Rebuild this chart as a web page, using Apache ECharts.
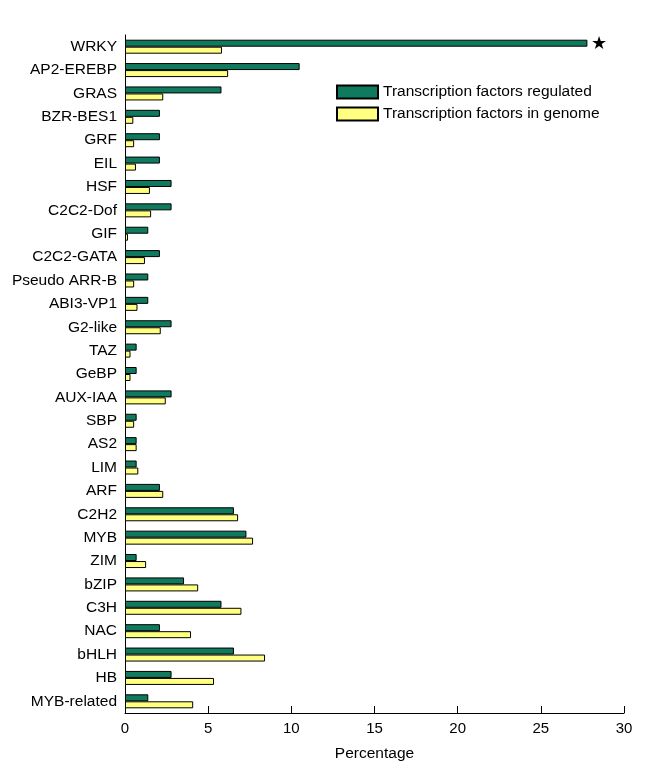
<!DOCTYPE html>
<html><head><meta charset="utf-8">
<script src="https://cdn.jsdelivr.net/npm/echarts@6/dist/echarts.min.js"></script>
<style>html,body{margin:0;padding:0;background:#fff}#c{width:663px;height:776px}</style>
</head><body><div id="c"></div>
<script>
const categories = ["WRKY","AP2-EREBP","GRAS","BZR-BES1","GRF","EIL","HSF","C2C2-Dof","GIF","C2C2-GATA","Pseudo ARR-B","ABI3-VP1","G2-like","TAZ","GeBP","AUX-IAA","SBP","AS2","LIM","ARF","C2H2","MYB","ZIM","bZIP","C3H","NAC","bHLH","HB","MYB-related"];
const regulated = [27.8,10.5,5.8,2.1,2.1,2.1,2.8,2.8,1.4,2.1,1.4,1.4,2.8,0.7,0.7,2.8,0.7,0.7,0.7,2.1,6.55,7.3,0.7,3.55,5.8,2.1,6.55,2.8,1.4];
const genome = [5.83,6.2,2.3,0.5,0.55,0.66,1.5,1.57,0.18,1.2,0.55,0.75,2.15,0.33,0.33,2.45,0.55,0.7,0.8,2.3,6.8,7.7,1.27,4.4,7.0,3.97,8.42,5.35,4.1];
const xTicks = [0,5,10,15,20,25,30];

const chart = echarts.init(document.getElementById('c'));
const font = 'Liberation Sans, Arial, sans-serif';
chart.setOption({
  animation:false,
  textStyle:{fontFamily:font},
  legend:{
    left:331, top:79, orient:'vertical', itemWidth:41, itemHeight:13, itemGap:6, icon:'rect',
    textStyle:{fontSize:15.5,color:'#000',fontFamily:font},
    data:['Transcription factors regulated','Transcription factors in genome']
  },
  grid:{left:125,right:39,top:35,bottom:63,containLabel:false},
  xAxis:{type:'value',min:xTicks[0],max:xTicks[xTicks.length-1],interval:5,
    name:'Percentage',nameLocation:'middle',nameGap:33,
    nameTextStyle:{fontSize:15.5,color:'#000',fontFamily:font},
    axisLine:{show:true,lineStyle:{color:'#000',width:1}},
    axisTick:{show:true,inside:true,length:7,lineStyle:{color:'#000'}},
    axisLabel:{fontSize:15,color:'#000',fontFamily:font,margin:8},
    splitLine:{show:false}},
  yAxis:{type:'category',data:categories,inverse:true,
    axisLine:{show:true,lineStyle:{color:'#000',width:1}},
    axisTick:{show:false},
    axisLabel:{fontSize:15.5,color:'#000',fontFamily:font,margin:8}},
  series:[
    {name:'Transcription factors regulated',type:'bar',data:regulated.map((v,i)=> i===0 ? {value:v,label:{show:true,position:'right',formatter:'★',fontSize:18,color:'#000',distance:4,offset:[0,1]}} : v),
     barWidth:7,barGap:'0%',itemStyle:{color:'#0f7a5e',borderColor:'#000',borderWidth:1}},
    {name:'Transcription factors in genome',type:'bar',data:genome,
     barWidth:7,itemStyle:{color:'#ffff80',borderColor:'#000',borderWidth:1}}
  ]
});
</script></body></html>
